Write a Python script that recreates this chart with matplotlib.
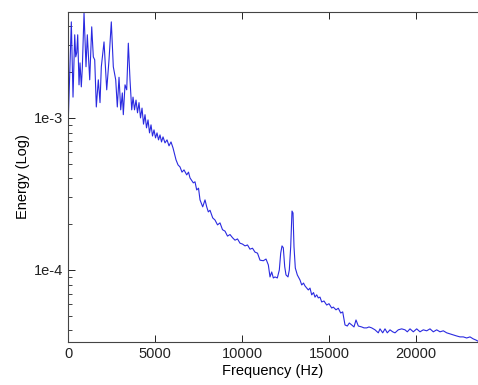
import matplotlib
matplotlib.use("Agg")
import matplotlib.pyplot as plt
from matplotlib.ticker import FixedLocator, FixedFormatter, LogLocator, NullFormatter

plt.rcParams["font.family"] = ["Liberation Sans", "DejaVu Sans"]

# spectrum: frequency (Hz) and energy
freq_hz = [
    0, 190, 287, 385, 443, 500, 557, 632, 690, 764, 822, 920, 1034, 1109,
    1247, 1362, 1454, 1534, 1626, 1741, 1839, 1914, 2069, 2224, 2356, 2488,
    2603, 2741, 2833, 2931, 3029, 3121, 3178, 3276, 3373, 3466, 3563, 3661,
    3736, 3822, 3908, 3994, 4080, 4166, 4253, 4339, 4425, 4511, 4598, 4684,
    4770, 4856, 4942, 5029, 5115, 5201, 5287, 5373, 5460, 5575, 5690, 5804,
    5919, 6034, 6207, 6322, 6436, 6551, 6666, 6822, 6925, 7011, 7201, 7298,
    7396, 7500, 7586, 7741, 7873, 7971, 8063, 8161, 8316, 8448, 8592, 8735,
    8879, 9023, 9166, 9310, 9454, 9597, 9741, 9885, 10028, 10172, 10316,
    10459, 10603, 10747, 10890, 11034, 11224, 11380, 11512, 11609, 11707,
    11799, 11897, 12029, 12144, 12224, 12299, 12373, 12454, 12528, 12643,
    12718, 12798, 12873, 12931, 12988, 13063, 13178, 13333, 13431, 13534,
    13620, 13810, 13908, 14005, 14109, 14195, 14292, 14384, 14482, 14580,
    14712, 14867, 14999, 15155, 15247, 15402, 15534, 15672, 15787, 15919,
    16051, 16166, 16304, 16436, 16551, 16684, 16879, 17011, 17166, 17298,
    17453, 17643, 17833, 17931, 18086, 18218, 18350, 18505, 18660, 18793,
    18982, 19178, 19367, 19500, 19655, 19845, 20040, 20229, 20419, 20615,
    20804, 20994, 21189, 21379, 21569, 21764, 21953, 22143, 22339, 22528,
    22718, 22913, 23103, 23293, 23448, 23563,
]
energy_e3 = [
    0.85, 4.28, 1.37, 3.52, 2.52, 2.68, 3.52, 1.65, 2.30, 1.60, 2.13, 4.91,
    2.17, 3.52, 1.78, 3.97, 2.52, 2.41, 1.18, 1.78, 1.26, 2.17, 3.16, 1.53,
    2.41, 4.28, 2.17, 1.78, 1.18, 1.85, 1.13, 1.46, 1.05, 1.65, 1.53, 3.10,
    1.78, 1.13,
    1.37, 1.13, 1.31, 1.08, 1.26, 1.00, 1.16, 0.91, 1.05, 0.86, 0.97, 0.797,
    0.90, 0.76, 0.834, 0.739, 0.797, 0.717, 0.773, 0.695, 0.75, 0.685, 0.717,
    0.655, 0.695, 0.635, 0.53, 0.491, 0.476, 0.44, 0.455, 0.422, 0.44, 0.403,
    0.374, 0.38, 0.336, 0.345, 0.289, 0.260, 0.289, 0.260, 0.241, 0.247,
    0.220, 0.213, 0.198, 0.204, 0.184, 0.18, 0.167, 0.171, 0.163, 0.157,
    0.16, 0.150, 0.148, 0.144, 0.146, 0.137, 0.139, 0.131, 0.129, 0.116,
    0.115, 0.118, 0.108, 0.090, 0.097, 0.0886, 0.090, 0.0886, 0.100, 0.129,
    0.144, 0.14, 0.105, 0.0928, 0.090, 0.100, 0.142, 0.244, 0.237, 0.142,
    0.103, 0.0928, 0.0859, 0.0797, 0.082, 0.0785, 0.0739, 0.076, 0.0686,
    0.071, 0.0663, 0.0686, 0.0655, 0.0663, 0.0616, 0.0625, 0.0588, 0.060,
    0.0562, 0.057, 0.0547, 0.056, 0.0521, 0.053, 0.0435, 0.0428, 0.0448,
    0.0435, 0.0422, 0.0469, 0.0428, 0.0422, 0.0416, 0.0416, 0.0422, 0.0416,
    0.0404, 0.0386, 0.0410, 0.0386, 0.0410, 0.0386, 0.0404, 0.0392, 0.0386,
    0.0404, 0.0410, 0.0404, 0.0392, 0.0410, 0.0392, 0.0410, 0.0392, 0.0404,
    0.0398, 0.0410, 0.0392, 0.0404, 0.0392, 0.0398, 0.0386, 0.0380, 0.0374,
    0.0368, 0.0363, 0.0363, 0.0357, 0.0363, 0.0352, 0.0346, 0.034,
]
energy = [v * 1e-3 for v in energy_e3]

x_ticks = [0, 5000, 10000, 15000, 20000]
y_ticks = [1e-4, 1e-3]
y_tick_labels = ["1e-4", "1e-3"]

fig = plt.figure(figsize=(4.78, 3.85), dpi=100)
ax = fig.add_axes([0.1423, 0.1117, 0.8577, 0.8571])

ax.plot(freq_hz, energy, color="#2a2ae0", linewidth=0.8)

ax.set_yscale("log")
ax.set_xlim(0, 23563)
ax.set_ylim(3.36e-5, 4.97e-3)

ax.xaxis.set_major_locator(FixedLocator(x_ticks))
ax.yaxis.set_major_locator(FixedLocator(y_ticks))
ax.yaxis.set_major_formatter(FixedFormatter(y_tick_labels))
ax.yaxis.set_minor_locator(LogLocator(base=10, subs=range(2, 10)))
ax.yaxis.set_minor_formatter(NullFormatter())

ax.tick_params(which="both", direction="in", top=True, right=False,
               labelsize=10.5, colors="#222222")
ax.tick_params(which="major", length=5, width=0.7)
ax.tick_params(which="minor", length=3, width=0.6)
for side in ["left", "bottom", "top"]:
    ax.spines[side].set_color("#444444")
    ax.spines[side].set_linewidth(0.8)
ax.spines["right"].set_visible(False)

ax.set_xlabel("Frequency (Hz)", fontsize=10.5, labelpad=2)
ax.set_ylabel("Energy (Log)", fontsize=10.5, labelpad=3)

plt.savefig("out.png", dpi=100)
print("saved out.png")
